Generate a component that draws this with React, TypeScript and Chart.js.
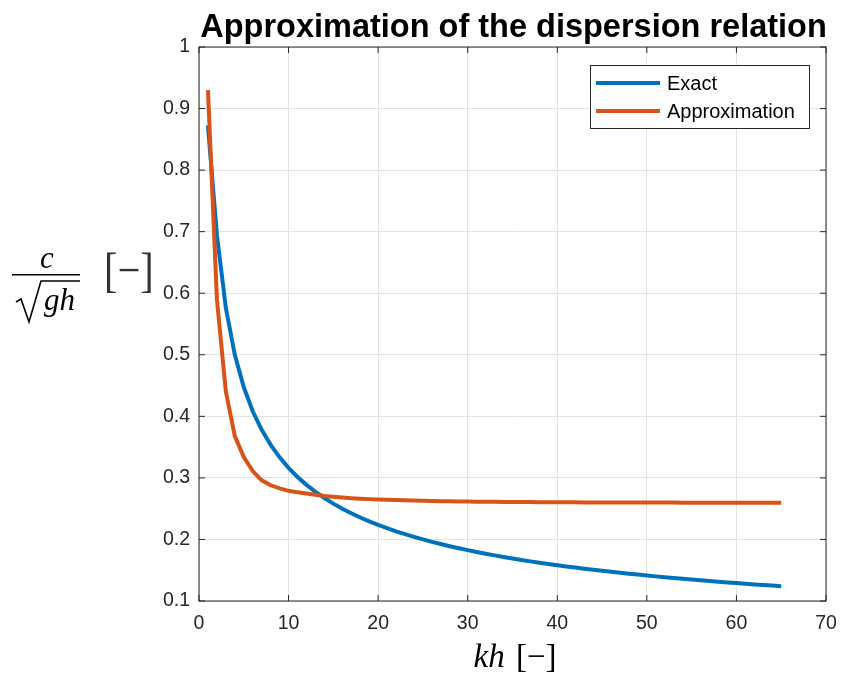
import { useEffect, useRef } from "react";
import { Chart, registerables } from "chart.js";

Chart.register(...registerables);

// Dimensionless wave number kh
const kh = [
  1, 2, 3, 4, 5, 6, 7, 8, 9, 10,
  11, 12, 13, 14, 15, 16, 17, 18, 19, 20,
  21, 22, 23, 24, 25, 26, 27, 28, 29, 30,
  31, 32, 33, 34, 35, 36, 37, 38, 39, 40,
  41, 42, 43, 44, 45, 46, 47, 48, 49, 50,
  51, 52, 53, 54, 55, 56, 57, 58, 59, 60,
  61, 62, 63, 64, 65,
];

// Phase speed c / sqrt(gh), exact dispersion relation
const exactSpeed = [
  0.8727, 0.6943, 0.5759, 0.4998, 0.4472, 0.4082, 0.378, 0.3536, 0.3333, 0.3162,
  0.3015, 0.2887, 0.2774, 0.2673, 0.2582, 0.25, 0.2425, 0.2357, 0.2294, 0.2236,
  0.2182, 0.2132, 0.2085, 0.2041, 0.2, 0.1961, 0.1925, 0.189, 0.1857, 0.1826,
  0.1796, 0.1768, 0.1741, 0.1715, 0.169, 0.1667, 0.1644, 0.1622, 0.1601, 0.1581,
  0.1562, 0.1543, 0.1525, 0.1508, 0.1491, 0.1474, 0.1459, 0.1443, 0.1429, 0.1414,
  0.14, 0.1387, 0.1374, 0.1361, 0.1348, 0.1336, 0.1325, 0.1313, 0.1302, 0.1291,
  0.128, 0.127, 0.126, 0.125, 0.124,
];

// Phase speed c / sqrt(gh), approximated relation
const approxSpeed = [
  0.93, 0.59, 0.44, 0.368, 0.334, 0.311, 0.296, 0.288, 0.283, 0.279,
  0.2765, 0.2745, 0.2725, 0.2706, 0.2692, 0.268, 0.267, 0.2662, 0.2655, 0.2649,
  0.2644, 0.2639, 0.2635, 0.2631, 0.2628, 0.2625, 0.2622, 0.262, 0.2618, 0.2616,
  0.2614, 0.2613, 0.2611, 0.261, 0.2609, 0.2608, 0.2607, 0.2606, 0.2605, 0.2604,
  0.2603, 0.2603, 0.2602, 0.2602, 0.2601, 0.2601, 0.26, 0.26, 0.26, 0.2599,
  0.2599, 0.2599, 0.2599, 0.2598, 0.2598, 0.2598, 0.2598, 0.2598, 0.2597, 0.2597,
  0.2597, 0.2597, 0.2597, 0.2597, 0.2597,
];

const xTicks = [0, 10, 20, 30, 40, 50, 60, 70];
const yTicks = [0.1, 0.2, 0.3, 0.4, 0.5, 0.6, 0.7, 0.8, 0.9, 1];

const seriesNames = ["Exact", "Approximation"];
const seriesColors = ["#0072BD", "#D95319"];
const chartTitle = "Approximation of the dispersion relation";

const SANS = '"Liberation Sans", Arial, sans-serif';
const SERIF = '"Liberation Serif", "Times New Roman", serif';
const AXIS_COLOR = "#262626";
const LINE_WIDTH = 4;

// Box around the axes, inward ticks, legend, title and axis labels
const decorations = {
  id: "decorations",
  afterDatasetsDraw(chart: any) {
    const { ctx, chartArea: a, scales } = chart;
    ctx.save();

    // axes box
    ctx.strokeStyle = AXIS_COLOR;
    ctx.lineWidth = 1;
    ctx.strokeRect(a.left, a.top, a.right - a.left, a.bottom - a.top);

    // inward tick marks on all four sides
    const tl = 6;
    ctx.beginPath();
    for (const v of xTicks) {
      const x = scales.x.getPixelForValue(v);
      ctx.moveTo(x, a.bottom);
      ctx.lineTo(x, a.bottom - tl);
      ctx.moveTo(x, a.top);
      ctx.lineTo(x, a.top + tl);
    }
    for (const v of yTicks) {
      const y = scales.y.getPixelForValue(v);
      ctx.moveTo(a.left, y);
      ctx.lineTo(a.left + tl, y);
      ctx.moveTo(a.right, y);
      ctx.lineTo(a.right - tl, y);
    }
    ctx.stroke();

    // legend
    const lx = 590.5;
    const ly = 65.5;
    const lw = 219;
    const lh = 63;
    ctx.fillStyle = "#ffffff";
    ctx.fillRect(lx, ly, lw, lh);
    ctx.strokeStyle = AXIS_COLOR;
    ctx.lineWidth = 1;
    ctx.strokeRect(lx, ly, lw, lh);
    const rows = [83, 111];
    seriesNames.forEach((name, i) => {
      ctx.strokeStyle = seriesColors[i];
      ctx.lineWidth = LINE_WIDTH;
      ctx.beginPath();
      ctx.moveTo(596, rows[i]);
      ctx.lineTo(660, rows[i]);
      ctx.stroke();
      ctx.fillStyle = "#000000";
      ctx.font = `20px ${SANS}`;
      ctx.textAlign = "left";
      ctx.textBaseline = "middle";
      ctx.fillText(name, 667, rows[i] + 1);
    });

    // title
    const cx = (a.left + a.right) / 2;
    ctx.fillStyle = "#000000";
    ctx.font = `bold 32.5px ${SANS}`;
    ctx.textAlign = "center";
    ctx.textBaseline = "alphabetic";
    ctx.fillText(chartTitle, cx + 1, 37);

    // x-axis label: kh [−]
    ctx.textAlign = "left";
    const italic = `italic 33px ${SERIF}`;
    const upright = `33px ${SERIF}`;
    ctx.font = italic;
    const wKh = ctx.measureText("kh").width;
    ctx.font = upright;
    const unit = " [\u2212]";
    const wUnit = ctx.measureText(unit).width;
    const x0 = cx + 1 - (wKh + wUnit) / 2;
    ctx.font = italic;
    ctx.fillText("kh", x0, 667);
    ctx.font = upright;
    ctx.fillText(unit, x0 + wKh + 3, 667);

    // y-axis label: c / sqrt(gh) [−]
    ctx.font = `italic 31px ${SERIF}`;
    ctx.textAlign = "center";
    ctx.fillText("c", 47, 268);
    ctx.fillRect(12, 274, 68, 1.5);
    ctx.strokeStyle = "#000000";
    ctx.lineWidth = 1.6;
    ctx.beginPath();
    ctx.moveTo(16, 302);
    ctx.lineTo(21, 299);
    ctx.lineTo(29, 322);
    ctx.lineTo(41, 281);
    ctx.lineTo(80, 281);
    ctx.stroke();
    ctx.textAlign = "left";
    ctx.fillText("gh", 44, 310);

    ctx.save();
    ctx.translate(104, 286);
    ctx.scale(0.84, 1);
    ctx.fillStyle = "#333333";
    ctx.font = `48px ${SERIF}`;
    ctx.fillText("[\u2212]", 0, 0);
    ctx.restore();

    ctx.restore();
  },
};

export default function App() {
  const canvasRef = useRef<HTMLCanvasElement | null>(null);

  useEffect(() => {
    const canvas = canvasRef.current;
    if (!canvas) return;

    const chart = new Chart(canvas, {
      type: "line",
      data: {
        datasets: [
          {
            label: seriesNames[0],
            data: kh.map((k, i) => ({ x: k, y: exactSpeed[i] })),
            borderColor: seriesColors[0],
            borderWidth: LINE_WIDTH,
            pointRadius: 0,
            tension: 0,
            order: 2,
          },
          {
            label: seriesNames[1],
            data: kh.map((k, i) => ({ x: k, y: approxSpeed[i] })),
            borderColor: seriesColors[1],
            borderWidth: LINE_WIDTH,
            pointRadius: 0,
            tension: 0,
            order: 1,
          },
        ],
      },
      options: {
        responsive: false,
        animation: false,
        events: [],
        layout: { padding: { left: 0, right: 16, top: 47, bottom: 0 } },
        plugins: {
          legend: { display: false },
          title: { display: false },
          tooltip: { enabled: false },
        },
        scales: {
          x: {
            type: "linear",
            min: 0,
            max: 70,
            afterBuildTicks: (scale: any) => {
              scale.ticks = xTicks.map((v) => ({ value: v }));
            },
            afterFit: (scale: any) => {
              scale.height = 74;
              scale.paddingLeft = 0;
              scale.paddingRight = 0;
            },
            grid: { color: "#e3e3e3", lineWidth: 1, drawTicks: false },
            border: { display: false },
            ticks: {
              padding: 11,
              color: AXIS_COLOR,
              font: { family: SANS, size: 19.5 },
              maxRotation: 0,
              autoSkip: false,
            },
          },
          y: {
            type: "linear",
            min: 0.1,
            max: 1,
            afterBuildTicks: (scale: any) => {
              scale.ticks = yTicks.map((v) => ({ value: v }));
            },
            afterFit: (scale: any) => {
              scale.width = 199;
              scale.paddingTop = 0;
              scale.paddingBottom = 0;
            },
            grid: { color: "#e3e3e3", lineWidth: 1, drawTicks: false },
            border: { display: false },
            ticks: {
              padding: 9,
              color: AXIS_COLOR,
              font: { family: SANS, size: 19.5 },
              autoSkip: false,
              callback: (v: any) => String(Number(Number(v).toFixed(1))),
            },
          },
        },
      },
      plugins: [decorations],
    });

    return () => {
      chart.destroy();
    };
  }, []);

  return (
    <div style={{ position: "fixed", left: 0, top: 0, width: 842, height: 675, background: "#ffffff" }}>
      <canvas ref={canvasRef} width={842} height={675} style={{ display: "block" }} />
    </div>
  );
}
